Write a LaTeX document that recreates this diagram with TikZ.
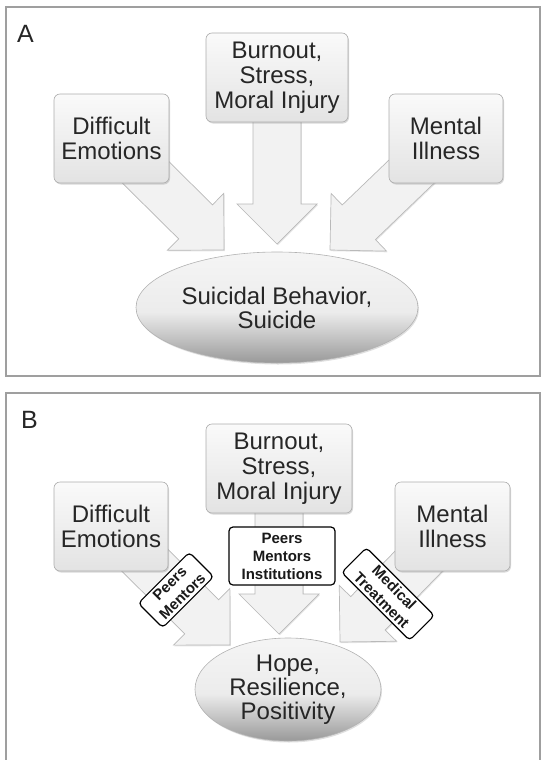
\documentclass[tikz,border=0pt]{standalone}
\usepackage{fontspec}
\setmainfont{Liberation Sans}
\usepackage{tikz}
\usetikzlibrary{calc,arrows,positioning,shapes.geometric,shadows,backgrounds}

\pgfdeclareverticalshading{ovalshade}{100bp}{color(0bp)=(gray!80); color(25bp)=(gray!80); color(36bp)=(gray!48); color(48bp)=(gray!15); color(75bp)=(gray!8); color(100bp)=(gray!8)}

\tikzset{
  frame/.style={draw=gray!75, line width=1.1pt},
  panel/.style={anchor=base west, inner sep=0pt, text=black!85, font=\fontsize{25}{25}\selectfont},
  cause/.style={draw=gray!65, line width=0.6pt, rounded corners=6pt, top color=gray!4, bottom color=gray!22,
    drop shadow={opacity=0.3, shadow xshift=1pt, shadow yshift=-1.5pt},
    minimum height=89pt, align=center, inner sep=2pt, text=black!85, font=\fontsize{24}{25}\selectfont},
  outcome/.style={ellipse, draw=gray!60, line width=0.6pt, shading=ovalshade,
    drop shadow={opacity=0.25, shadow xshift=1pt, shadow yshift=-1.5pt},
    align=center, inner sep=0pt, text=black!85, font=\fontsize{24}{24}\selectfont},
  fat arrow/.style={draw=gray!55, line width=0.7pt, fill=gray!10,
    drop shadow={opacity=0.2, shadow xshift=0.8pt, shadow yshift=-1.2pt}},
  helper/.style={draw=black, line width=1.2pt, fill=white, rounded corners=4pt, align=center,
    inner sep=3pt, text=black!90, font=\fontsize{15}{18}\selectfont\bfseries}
}

\newcommand{\fatarrow}[2]{%
  \coordinate (hb) at ($(#2)!40pt!(#1)$);
  \draw[fat arrow] ($(#1)!24pt!90:(#2)$) -- ($(hb)!24pt!90:(#2)$) -- ($(hb)!40pt!90:(#2)$) -- (#2)
    -- ($(hb)!40pt!-90:(#2)$) -- ($(hb)!24pt!-90:(#2)$) -- ($(#1)!24pt!-90:(#2)$) -- cycle;}

\begin{document}
\begin{tikzpicture}[x=1pt,y=-1pt]
\useasboundingbox (0,0) rectangle (541,760);

% panel A
\draw[frame] (6,7) rectangle (540,376);
\node[panel] (labA) at (17,43) {A};
\node[cause, minimum width=115pt] (diffA) at (111.5,138.5) {Difficult\\Emotions};
\node[cause, minimum width=142pt] (burnA) at (277,77.5) {Burnout,\\Stress,\\Moral Injury};
\node[cause, minimum width=114pt] (mentA) at (446,138.5) {Mental\\Illness};
\node[outcome, minimum width=282pt, minimum height=111pt] (suicA) at (277,307.5) {Suicidal Behavior,\\Suicide};
\coordinate (tipA1) at (224,250);
\coordinate (tipA2) at (277,244);
\coordinate (tipA3) at (330,250);

% panel B
\draw[frame] (6,760) -- (6,393) -- (540,393) -- (540,760);
\node[panel] (labB) at (21,428) {B};
\node[cause, minimum width=114pt] (diffB) at (111,526.5) {Difficult\\Emotions};
\node[cause, minimum width=146pt] (burnB) at (279,468.5) {Burnout,\\Stress,\\Moral Injury};
\node[cause, minimum width=115pt] (mentB) at (452.5,526.5) {Mental\\Illness};
\node[outcome, minimum width=186pt, minimum height=103pt] (hopeB) at (288,689.5) {Hope,\\Resilience,\\Positivity};
\coordinate (tipB1) at (230,645);
\coordinate (tipB2) at (279,634);
\coordinate (tipB3) at (340,642);

\node[helper, rotate=45, minimum width=72pt] (pmB) at (176,590) {Peers\\Mentors};
\node[helper, minimum width=106pt, minimum height=58pt] (pmiB) at (282,556) {Peers\\Mentors\\Institutions};
\node[helper, rotate=-45, minimum width=96pt] (medB) at (388,594) {Medical\\Treatment};

\begin{scope}[on background layer]
\fatarrow{diffA.center}{tipA1}
\fatarrow{burnA.center}{tipA2}
\fatarrow{mentA.center}{tipA3}
\fatarrow{diffB.center}{tipB1}
\fatarrow{burnB.center}{tipB2}
\fatarrow{mentB.center}{tipB3}
\end{scope}
\end{tikzpicture}
\end{document}
